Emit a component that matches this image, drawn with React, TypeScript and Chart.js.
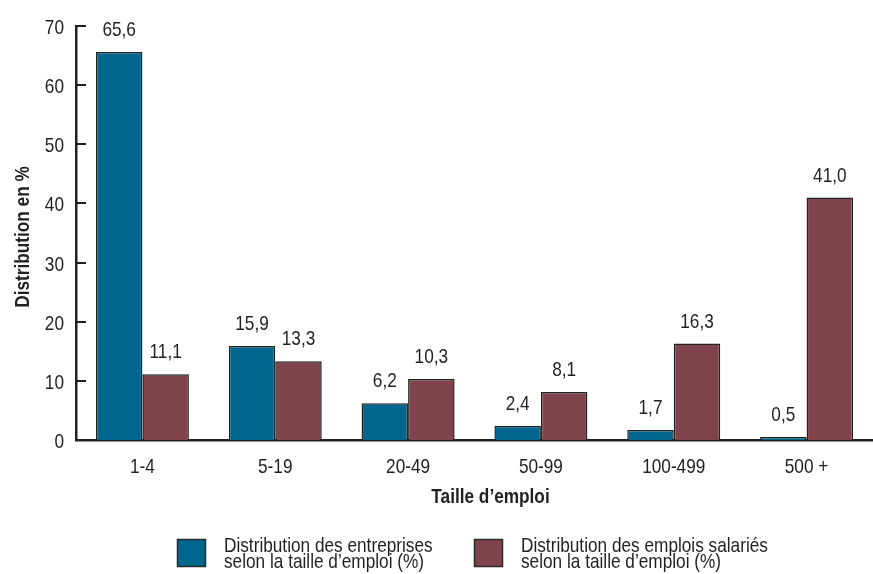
import React, { useEffect, useRef } from "react";
import { Chart, registerables } from "chart.js";

Chart.register(...registerables);

const categories = ["1-4", "5-19", "20-49", "50-99", "100-499", "500 +"];
const entreprises = [65.6, 15.9, 6.2, 2.4, 1.7, 0.5];
const emplois = [11.1, 13.3, 10.3, 8.1, 16.3, 41.0];
const legendEntreprises = ["Distribution des entreprises", "selon la taille d’emploi (%)"];
const legendEmplois = ["Distribution des emplois salariés", "selon la taille d’emploi (%)"];
const yTitle = "Distribution en %";
const xTitle = "Taille d’emploi";

const BLUE = "#01668e";
const MAROON = "#80424b";
const INK = "#231f20";
const FONT = "'Liberation Sans', Arial, sans-serif";
const SIZE = 21;
const NARROW = 0.82;

function drawText(
  ctx: CanvasRenderingContext2D,
  text: string,
  x: number,
  y: number,
  align: CanvasTextAlign,
  bold = false,
  rotate = 0
) {
  ctx.save();
  ctx.translate(x, y);
  if (rotate) ctx.rotate(rotate);
  ctx.scale(NARROW, 1);
  ctx.font = `${bold ? "bold " : ""}${SIZE}px ${FONT}`;
  ctx.fillStyle = INK;
  ctx.textAlign = align;
  ctx.textBaseline = "alphabetic";
  ctx.fillText(text, 0, 0);
  ctx.restore();
}

export default function App() {
  const ref = useRef<HTMLCanvasElement | null>(null);

  useEffect(() => {
    if (!ref.current) return;

    const valueLabels = {
      id: "valueLabels",
      afterDatasetsDraw(chart: any) {
        const ctx = chart.ctx;
        chart.data.datasets.forEach((ds: any, i: number) => {
          const meta = chart.getDatasetMeta(i);
          meta.data.forEach((el: any, j: number) => {
            const v = ds.data[j] as number;
            drawText(ctx, v.toFixed(1).replace(".", ","), el.x, el.y - 16, "center");
          });
        });
      },
    };

    const axesText = {
      id: "axesText",
      afterDraw(chart: any) {
        const ctx = chart.ctx;
        const y = chart.scales.y;
        const x = chart.scales.x;
        const area = chart.chartArea;
        ctx.save();
        ctx.strokeStyle = INK;
        ctx.lineWidth = 2;
        y.ticks.forEach((t: any) => {
          const py = Math.round(y.getPixelForValue(t.value));
          ctx.beginPath();
          ctx.moveTo(area.left, py);
          ctx.lineTo(area.left + 10, py);
          ctx.stroke();
          drawText(ctx, String(t.value), area.left - 12, py + 7.5, "right");
        });
        ctx.restore();
        categories.forEach((c, i) => {
          drawText(ctx, c, x.getPixelForValue(i), area.bottom + 33, "center");
        });
        drawText(ctx, xTitle, (area.left + area.right) / 2 + 16, area.bottom + 63, "center", true);
        drawText(ctx, yTitle, 29, (area.top + area.bottom) / 2 + 4, "center", true, -Math.PI / 2);
      },
    };

    const customLegend = {
      id: "customLegend",
      afterDraw(chart: any) {
        const ctx = chart.ctx;
        const items = [
          { x: 177, color: BLUE, lines: legendEntreprises },
          { x: 474, color: MAROON, lines: legendEmplois },
        ];
        ctx.save();
        items.forEach((it) => {
          ctx.fillStyle = it.color;
          ctx.fillRect(it.x, 539, 29, 28);
          ctx.strokeStyle = "#2a2a2a";
          ctx.lineWidth = 1.5;
          ctx.strokeRect(it.x + 0.5, 539.5, 28, 27);
          it.lines.forEach((l, k) => drawText(ctx, l, it.x + 47, 552 + k * 16, "left"));
        });
        ctx.restore();
      },
    };

    const chart = new Chart(ref.current, {
      type: "bar",
      data: {
        labels: categories,
        datasets: [
          {
            label: legendEntreprises.join(" "),
            data: entreprises,
            backgroundColor: BLUE,
            borderColor: "#222",
            borderWidth: 1.5,
            categoryPercentage: 0.7,
            barPercentage: 1.0,
          },
          {
            label: legendEmplois.join(" "),
            data: emplois,
            backgroundColor: MAROON,
            borderColor: "#222",
            borderWidth: 1.5,
            categoryPercentage: 0.7,
            barPercentage: 1.0,
          },
        ],
      },
      options: {
        animation: false,
        responsive: false,
        devicePixelRatio: 1,
        layout: { padding: { top: 26, bottom: 66, left: 0, right: 0 } },
        plugins: {
          legend: { display: false },
          tooltip: { enabled: false },
        },
        scales: {
          x: {
            grid: { display: false, drawTicks: false },
            border: { display: true, color: INK, width: 2.5 },
            ticks: { display: false },
            afterFit(scale: any) {
              scale.height = 68;
            },
          },
          y: {
            min: 0,
            max: 70,
            grid: { display: false, drawTicks: false },
            border: { display: true, color: INK, width: 2.5 },
            ticks: { display: false, stepSize: 10 },
            afterFit(scale: any) {
              scale.width = 76;
            },
          },
        },
      },
      plugins: [valueLabels, axesText, customLegend],
    } as any);

    return () => chart.destroy();
  }, []);

  return (
    <div style={{ position: "absolute", left: 0, top: 0, width: 873, height: 574, background: "#fff" }}>
      <canvas ref={ref} width={873} height={574} style={{ width: 873, height: 574, display: "block" }} />
    </div>
  );
}
